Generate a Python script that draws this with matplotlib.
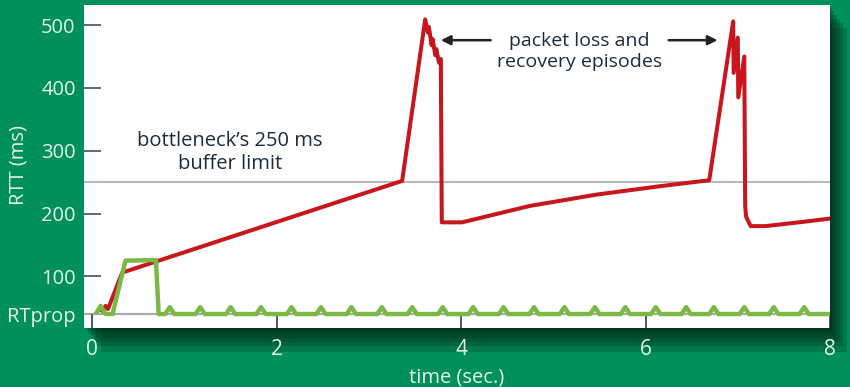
import matplotlib
matplotlib.use("Agg")
import matplotlib.pyplot as plt
import matplotlib.patheffects as pe

# ---- data ----
red_t = [0.11, 0.145, 0.17, 0.325, 3.36, 3.61, 3.64, 3.65, 3.68, 3.69, 3.72, 3.73,
         3.76, 3.78, 3.78, 3.79, 4.01, 4.74, 5.46, 6.18, 6.69, 6.95, 6.955, 7.0,
         7.005, 7.07, 7.08, 7.09, 7.14, 7.3, 7.66, 8.0]
red_rtt = [45, 53, 48, 106, 252, 509, 488, 497, 468, 478, 452, 462,
           440, 446, 428, 186, 186, 212, 230, 244, 253, 506, 424, 480,
           385, 450, 212, 195, 180, 180, 186, 192]

green_t = [0.05, 0.09, 0.145, 0.22, 0.36, 0.69, 0.72,
           0.79, 0.84, 0.89, 1.12, 1.17, 1.22, 1.45, 1.50, 1.55,
           1.78, 1.83, 1.88, 2.11, 2.16, 2.21, 2.43, 2.48, 2.53,
           2.76, 2.81, 2.86, 3.09, 3.14, 3.19, 3.42, 3.47, 3.52,
           3.75, 3.80, 3.85, 4.08, 4.13, 4.18, 4.41, 4.46, 4.51,
           4.74, 4.79, 4.84, 5.07, 5.12, 5.17, 5.40, 5.45, 5.50,
           5.73, 5.78, 5.83, 6.06, 6.11, 6.16, 6.39, 6.44, 6.49,
           6.69, 6.74, 6.79, 7.02, 7.07, 7.12, 7.34, 7.39, 7.44,
           7.67, 7.72, 7.77, 8.0]
green_rtt = [43, 53, 40, 40, 125, 126, 40,
             40, 51, 40, 40, 51, 40, 40, 51, 40,
             40, 51, 40, 40, 51, 40, 40, 51, 40,
             40, 51, 40, 40, 51, 40, 40, 51, 40,
             40, 51, 40, 40, 51, 40, 40, 51, 40,
             40, 51, 40, 40, 51, 40, 40, 51, 40,
             40, 51, 40, 40, 51, 40, 40, 51, 40,
             40, 51, 40, 40, 51, 40, 40, 51, 40,
             40, 51, 40, 40]

rtprop = 40
buffer_limit = 250
x_ticks = [0, 2, 4, 6, 8]
y_ticks = [100, 200, 300, 400, 500]

# ---- style ----
BG = "#00905c"
LABEL = "#e4f3ea"
TEXT = "#1d2b3a"
plt.rcParams['font.family'] = ['Open Sans', 'DejaVu Sans']

fig = plt.figure(figsize=(8.5, 3.87), dpi=100, facecolor=BG)
ax = fig.add_axes([0.0988, 0.152, 0.8777, 0.835])
ax.set_facecolor("white")
shadows = [pe.SimplePatchShadow(offset=(o, -o * 1.4), shadow_rgbFace="#001a0e", alpha=0.2)
           for o in (12, 9, 7, 5, 3, 1.5)]
ax.patch.set_path_effects(shadows + [pe.Normal()])
for s in ax.spines.values():
    s.set_visible(False)

ax.set_xlim(-0.09, 8.0)
ax.set_ylim(17.5, 532)

ax.axhline(rtprop, color="#aaaaaa", lw=1.6, zorder=1)
ax.axhline(buffer_limit, color="#aaaaaa", lw=1.2, zorder=1)
ax.vlines(x_ticks, 17.5, rtprop, color="#555555", lw=1.4, zorder=1)

ax.plot(red_t, red_rtt, color="#c8161d", lw=2.9, solid_joinstyle="round", zorder=3)
ax.plot(green_t, green_rtt, color="#7cb845", lw=3.2, solid_joinstyle="round", zorder=4)

ax.set_xticks(x_ticks)
ax.set_xticklabels([str(v) for v in x_ticks])
ax.tick_params(axis="x", length=0, pad=8, labelsize=15, labelcolor=LABEL)
ax.set_yticks(y_ticks + [rtprop])
ax.set_yticklabels([str(v) for v in y_ticks] + ["RTprop"])
ax.tick_params(axis="y", direction="in", length=12, width=1.4, color="#666666",
               pad=6, labelsize=14.5, labelcolor=LABEL)
ax.yaxis.get_major_ticks()[-1].tick1line.set_visible(False)

ax.set_xlabel("time (sec.)", color=LABEL, fontsize=14.5, labelpad=5)
ax.set_ylabel("RTT (ms)", color=LABEL, fontsize=14.5)
ax.yaxis.set_label_coords(-0.074, 0.506)

ax.text(1.49, 297, "bottleneck’s 250 ms\nbuffer limit", ha="center", va="center",
        fontsize=14.5, color=TEXT, linespacing=1.2)
ax.text(5.28, 458, "packet loss and\nrecovery episodes", ha="center", va="center",
        fontsize=14, color=TEXT, linespacing=1.2)
ax.annotate("", xy=(3.75, 476), xytext=(4.35, 476),
            arrowprops=dict(arrowstyle="-|>", color="#222222", lw=1.8, mutation_scale=14))
ax.annotate("", xy=(6.81, 476), xytext=(6.22, 476),
            arrowprops=dict(arrowstyle="-|>", color="#222222", lw=1.8, mutation_scale=14))

fig.savefig("out.png", dpi=100, facecolor=BG)
